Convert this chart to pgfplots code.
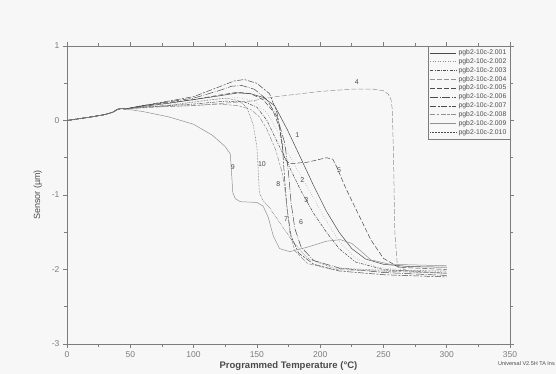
\documentclass[border=0pt]{standalone}
\usepackage{pgfplots}
\pgfplotsset{compat=1.18}
\usepackage{fontspec}
\setmainfont{Liberation Sans}
\definecolor{bg}{RGB}{247,247,247}
\definecolor{ax}{RGB}{125,125,125}
\definecolor{dk}{RGB}{75,75,75}
\definecolor{lt}{RGB}{145,145,145}
\begin{document}
\begin{tikzpicture}
\fill[bg] (0pt,0pt) rectangle (556pt,374pt);
\begin{axis}[
  at={(67pt,30pt)}, anchor=south west,
  scale only axis, width=443pt, height=298pt,
  xmin=0, xmax=350, ymin=-3, ymax=1,
  xtick={0,50,...,350}, ytick={-3,-2,-1,0,1},
  minor xtick={25,75,...,325}, minor ytick={-2.5,-1.5,-0.5,0.5},
  tick align=outside, major tick length=4pt, minor tick length=3pt,
  tick style={ax, line width=0.6pt},
  axis line style={ax, line width=0.8pt},
  ticklabel style={font=\fontsize{8.5}{10}\selectfont, text=ax},
  /pgf/number format/assume math mode=true,
  xlabel={\bfseries Programmed Temperature (°C)},
  ylabel={Sensor (µm)},
  xlabel style={font=\fontsize{9.5}{10}\selectfont, text=dk, yshift=3pt},
  ylabel style={font=\fontsize{9}{10}\selectfont, text=dk, yshift=3pt},
  legend style={at={(1,1)}, anchor=north east, draw=ax, fill=bg,
    font=\fontsize{6.8}{7}\selectfont, text=dk, inner sep=1.5pt,
    row sep=-1.6pt, legend cell align=left},
  legend image code/.code={\draw[#1] (0pt,0pt) -- (26pt,0pt);},
  every axis plot/.append style={line width=0.5pt},
]
% 1
\addplot[dk, solid] coordinates {(0,0)(10,0.025)(20,0.05)(30,0.08)(36,0.11)(40,0.15)(43,0.16)(46,0.155)(60,0.19)(80,0.23)(100,0.28)(120,0.33)(135,0.37)(145,0.36)(155,0.31)(164,0.2)(174,-0.12)(184,-0.48)(195,-0.88)(205,-1.22)(215,-1.5)(225,-1.72)(236,-1.86)(250,-1.93)(270,-1.96)(300,-1.97)};
% 2
\addplot[lt, dotted] coordinates {(0,0)(10,0.025)(20,0.05)(30,0.08)(36,0.11)(40,0.15)(43,0.16)(46,0.155)(60,0.18)(80,0.21)(100,0.25)(120,0.29)(135,0.31)(148,0.26)(158,0.1)(165,-0.1)(175,-0.45)(185,-0.75)(195,-1.05)(205,-1.35)(215,-1.62)(228,-1.85)(245,-1.97)(270,-2.01)(300,-2.03)};
% 3
\addplot[dk, dash pattern=on 3pt off 1.2pt on 1pt off 1.2pt] coordinates {(0,0)(10,0.025)(20,0.05)(30,0.08)(36,0.11)(40,0.15)(43,0.16)(46,0.155)(60,0.18)(100,0.22)(125,0.26)(140,0.25)(150,0.18)(158,0.0)(165,-0.25)(175,-0.6)(185,-0.95)(195,-1.25)(205,-1.5)(215,-1.72)(228,-1.9)(250,-2.0)(300,-2.05)};
% 4
\addplot[lt, dash pattern=on 5pt off 2pt] coordinates {(0,0)(10,0.025)(20,0.05)(30,0.08)(36,0.11)(40,0.15)(43,0.16)(46,0.155)(70,0.18)(100,0.2)(145,0.26)(165,0.32)(200,0.39)(225,0.42)(242,0.42)(250,0.4)(254,0.35)(256,0.28)(257,0.15)(258,-0.5)(259,-1.5)(261,-1.95)(270,-2.03)(300,-2.05)};
% 5
\addplot[dk, dash pattern=on 5pt off 2pt] coordinates {(0,0)(10,0.025)(20,0.05)(30,0.08)(36,0.11)(40,0.15)(43,0.16)(46,0.155)(60,0.2)(100,0.28)(120,0.34)(135,0.38)(145,0.36)(155,0.28)(163,0.12)(168,-0.1)(170,-0.35)(172,-0.52)(176,-0.58)(190,-0.56)(205,-0.5)(210,-0.52)(213,-0.62)(220,-0.9)(230,-1.25)(240,-1.6)(250,-1.85)(262,-1.97)(300,-2.0)};
% 6
\addplot[dk, dash pattern=on 8pt off 1.5pt on 0.8pt off 1.5pt] coordinates {(0,0)(10,0.025)(20,0.05)(30,0.08)(36,0.11)(40,0.15)(43,0.16)(46,0.155)(60,0.2)(100,0.3)(120,0.4)(130,0.46)(138,0.47)(148,0.42)(158,0.28)(166,0.05)(172,-0.3)(175,-0.7)(177,-1.1)(180,-1.45)(185,-1.7)(195,-1.88)(215,-1.98)(250,-2.04)(300,-2.08)};
% 7
\addplot[dk, dash pattern=on 6pt off 1.5pt on 2pt off 1.5pt] coordinates {(0,0)(10,0.025)(20,0.05)(30,0.08)(36,0.11)(40,0.15)(43,0.16)(46,0.155)(60,0.2)(100,0.32)(120,0.45)(132,0.53)(140,0.55)(150,0.5)(160,0.36)(166,0.1)(170,-0.3)(172,-0.8)(174,-1.2)(177,-1.55)(183,-1.78)(195,-1.93)(215,-2.02)(250,-2.07)(300,-2.1)};
% 8
\addplot[lt, dash pattern=on 5pt off 1.5pt on 2.5pt off 1.5pt] coordinates {(0,0)(10,0.025)(20,0.05)(30,0.08)(36,0.11)(40,0.15)(43,0.16)(46,0.155)(60,0.18)(100,0.2)(120,0.22)(135,0.2)(145,0.15)(152,0.05)(158,-0.12)(165,-0.4)(170,-0.7)(172,-0.9)(174,-1.2)(176,-1.5)(180,-1.75)(190,-1.92)(210,-2.0)(300,-2.05)};
% 9
\addplot[lt, solid] coordinates {(0,0)(10,0.025)(20,0.05)(30,0.08)(36,0.11)(40,0.15)(43,0.16)(46,0.155)(60,0.12)(80,0.05)(100,-0.05)(115,-0.2)(125,-0.35)(129,-0.45)(130,-0.7)(131,-0.97)(133,-1.05)(137,-1.09)(150,-1.1)(155,-1.15)(159,-1.3)(163,-1.55)(168,-1.72)(176,-1.76)(190,-1.7)(205,-1.62)(216,-1.6)(225,-1.65)(232,-1.75)(240,-1.87)(255,-1.93)(300,-1.95)};
% 10
\addplot[dk, densely dotted] coordinates {(0,0)(10,0.025)(20,0.05)(30,0.08)(36,0.11)(40,0.15)(43,0.16)(46,0.155)(80,0.2)(110,0.27)(125,0.3)(135,0.27)(142,0.18)(147,-0.05)(150,-0.35)(151,-0.65)(152,-0.97)(155,-1.08)(160,-1.17)(168,-1.37)(179,-1.64)(190,-1.85)(210,-1.98)(250,-2.01)(300,-2.02)};
\legend{pgb2-10c-2.001,pgb2-10c-2.002,pgb2-10c-2.003,pgb2-10c-2.004,pgb2-10c-2.005,pgb2-10c-2.006,pgb2-10c-2.007,pgb2-10c-2.008,pgb2-10c-2.009,pgb2-10c-2.010}
\begin{scope}[every node/.style={font=\fontsize{7}{8}\selectfont, text=dk, inner sep=0.5pt}]
\node at (axis cs:182,-0.2) {1};
\node at (axis cs:186,-0.8) {2};
\node at (axis cs:189,-1.07) {3};
\node at (axis cs:229,0.51) {4};
\node at (axis cs:215,-0.66) {5};
\node at (axis cs:185,-1.37) {6};
\node at (axis cs:173,-1.33) {7};
\node at (axis cs:167,-0.86) {8};
\node at (axis cs:131,-0.63) {9};
\node at (axis cs:154,-0.59) {10};
\end{scope}
\end{axis}
\node[anchor=east, font=\fontsize{5.5}{6}\selectfont, text=dk, inner sep=0] at (555pt,10pt) {Universal V2.5H TA Ins};
\end{tikzpicture}
\end{document}
